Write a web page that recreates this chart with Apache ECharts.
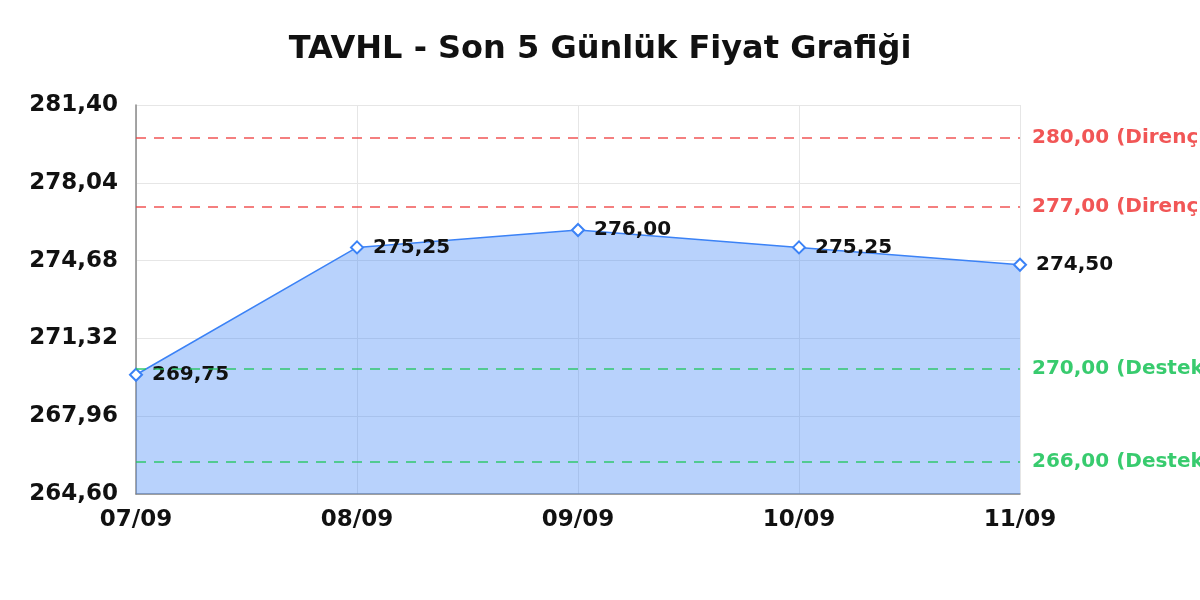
<!DOCTYPE html>
<html>
<head>
<meta charset="utf-8">
<script src="https://cdn.jsdelivr.net/npm/echarts@6/dist/echarts.min.js"></script>
<style>
  html, body { margin: 0; padding: 0; background: #fff; }
  #chart { width: 1200px; height: 600px; }
</style>
</head>
<body>
<div id="chart"></div>
<script>
// values
var days = ['07/09', '08/09', '09/09', '10/09', '11/09'];
var prices = [269.75, 275.25, 276.00, 275.25, 274.50];
var resistance = [280, 277];
var support = [270, 266];
var yMin = 264.6, yMax = 281.4, yStep = 3.36;

var fmt = function (v) { return v.toFixed(2).replace('.', ','); };
var font = '"DejaVu Sans"';

var lines = [];
resistance.forEach(function (v) {
  lines.push({
    yAxis: v,
    lineStyle: { color: '#ef4444', type: [10, 8], width: 1.5, opacity: 0.9 },
    label: { color: '#ef4444', opacity: 0.9, formatter: fmt(v) + ' (Direnç)' }
  });
});
support.forEach(function (v) {
  lines.push({
    yAxis: v,
    lineStyle: { color: '#22c55e', type: [10, 8], width: 1.5, opacity: 0.9 },
    label: { color: '#22c55e', opacity: 0.9, formatter: fmt(v) + ' (Destek)' }
  });
});

var chart = echarts.init(document.getElementById('chart'));
chart.setOption({
  animation: false,
  textStyle: { fontFamily: font },
  title: {
    text: 'TAVHL - Son 5 Günlük Fiyat Grafiği',
    left: 'center',
    top: 29,
    textStyle: { fontFamily: font, fontSize: 32, fontWeight: 'bold', color: '#111' }
  },
  grid: { left: 136, right: 180, top: 105, bottom: 106 },
  xAxis: {
    type: 'category',
    data: days,
    boundaryGap: false,
    axisLine: { lineStyle: { color: '#888', width: 1.5 } },
    axisTick: { show: false },
    axisLabel: { fontFamily: font, fontSize: 23, fontWeight: 'bold', color: '#111', margin: 15 },
    splitLine: { show: true, lineStyle: { color: '#e6e6e6', width: 1 } }
  },
  yAxis: {
    type: 'value',
    min: yMin,
    max: yMax,
    interval: yStep,
    axisLine: { show: true, lineStyle: { color: '#888', width: 1.5 } },
    axisTick: { show: false },
    axisLabel: {
      fontFamily: font, fontSize: 23, fontWeight: 'bold', color: '#111', margin: 18,
      padding: [3, 0, 0, 0],
      formatter: function (v) { return fmt(v); }
    },
    splitLine: { show: true, lineStyle: { color: '#e6e6e6', width: 1 } }
  },
  series: [{
    type: 'line',
    data: prices,
    symbol: 'diamond',
    symbolSize: 12,
    lineStyle: { color: '#3b82f6', width: 1.5 },
    itemStyle: { color: '#fff', borderColor: '#3b82f6', borderWidth: 2 },
    areaStyle: { color: 'rgba(59,130,246,0.36)', opacity: 1 },
    label: {
      show: true,
      position: 'right',
      distance: 9,
      padding: [3, 0, 0, 0],
      fontFamily: font,
      fontSize: 20,
      fontWeight: 'bold',
      color: '#111',
      formatter: function (p) { return fmt(p.value); }
    },
    markLine: {
      silent: true,
      symbol: 'none',
      label: { position: 'end', fontFamily: font, fontSize: 20, fontWeight: 'bold', distance: 12, padding: [3, 0, 0, 0] },
      data: lines
    }
  }]
});
</script>
</body>
</html>
